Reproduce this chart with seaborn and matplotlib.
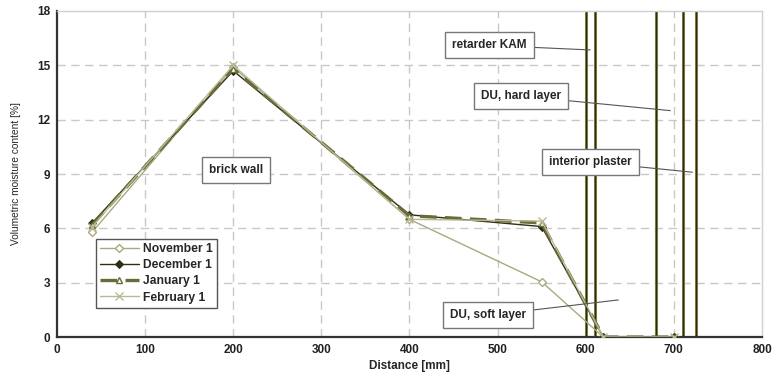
import matplotlib
matplotlib.use("Agg")
import matplotlib.pyplot as plt
import seaborn as sns
import numpy as np

# ---- data ----
distance = [40, 200, 400, 550, 620, 700]
november = [5.8, 14.9, 6.5, 3.05, 0.0, 0.0]
december = [6.3, 14.7, 6.75, 6.1, 0.0, 0.0]
january = [6.2, 14.8, 6.7, 6.3, 0.0, 0.0]
february = [6.1, 15.0, 6.5, 6.4, 0.0, 0.0]
series_names = ["November 1", "December 1", "January 1", "February 1"]
layer_bounds = [600, 610, 680, 710, 725]
x_ticks = [0, 100, 200, 300, 400, 500, 600, 700, 800]
y_ticks = [0, 3, 6, 9, 12, 15, 18]
labels = ["brick wall", "retarder KAM", "DU, hard layer", "interior plaster", "DU, soft layer"]

sns.set_theme(style="white")
plt.rcParams['font.family'] = ['Liberation Sans', 'DejaVu Sans']

fig = plt.figure(figsize=(7.74, 3.87), dpi=100)
ax = fig.add_axes([0.0736, 0.129, 0.9109, 0.8426])

# grid
for xv in x_ticks[1:-1]:
    ax.axvline(xv, color='#c8c8c8', lw=1, ls=(0, (6, 4)), zorder=0)
for yv in y_ticks[1:-1]:
    ax.axhline(yv, color='#c8c8c8', lw=1, ls=(0, (6, 4)), zorder=0)

# layer boundaries
for xb in layer_bounds:
    ax.axvline(xb, color='#8a8a4a', lw=2.2, zorder=1)
    ax.axvline(xb, color='#2b2b10', lw=1.0, zorder=1)

styles = [
    dict(color='#a9a980', lw=1.0, marker='D', ms=4, mfc='white', mec='#a9a980', mew=1.0, ls='-'),
    dict(color='#2e2e12', lw=1.0, marker='D', ms=4.5, mfc='#2e2e12', mec='#2e2e12', ls='-'),
    dict(color='#6a6a3a', lw=2.4, marker='^', ms=5, mfc='white', mec='#6a6a3a', mew=1.0, ls=(0, (5, 2.5))),
    dict(color='#b9b995', lw=1.0, marker='x', ms=6, mec='#b9b995', mew=1.0, ls='-'),
]
for name, vals, st in zip(series_names, [november, december, january, february], styles):
    sns.lineplot(x=distance, y=vals, ax=ax, label=name, zorder=3, **st)

ax.set_xlim(0, 800)
ax.set_ylim(0, 18)
ax.set_xticks(x_ticks)
ax.set_yticks(y_ticks)
ax.tick_params(axis='both', labelsize=8.5, length=3, width=1, direction='out', pad=2, colors='#222222')
for lab in ax.get_xticklabels() + ax.get_yticklabels():
    lab.set_fontweight('bold')
ax.set_xlabel("Distance [mm]", fontsize=8.5, fontweight='bold', labelpad=3)
ax.set_ylabel("Volumetric moisture content [%]", fontsize=7.3, labelpad=11)

for side in ['left', 'bottom']:
    ax.spines[side].set_color('#333333')
    ax.spines[side].set_linewidth(1.6)
for side in ['top', 'right']:
    ax.spines[side].set_color('#d0d0d0')
    ax.spines[side].set_linewidth(1.0)

bbox = dict(boxstyle='square,pad=0.6', fc='white', ec='#777777', lw=1.0)
# annotations: (label, text pos, arrow target)
ann = [
    (labels[0], (203, 9.2), None),
    (labels[1], (491, 16.1), (605, 15.85)),
    (labels[2], (527, 13.3), (696, 12.5)),
    (labels[3], (605, 9.67), (721, 9.1)),
    (labels[4], (489, 1.2), (637, 2.05)),
]
for text, pos, tgt in ann:
    if tgt is None:
        ax.text(pos[0], pos[1], text, ha='center', va='center', fontsize=8.5,
                fontweight='bold', bbox=bbox, zorder=5)
    else:
        ax.annotate(text, xy=tgt, xytext=pos, ha='center', va='center', fontsize=8.5,
                    fontweight='bold', bbox=bbox, zorder=5,
                    arrowprops=dict(arrowstyle='-', color='#555555', lw=0.8, shrinkA=0, shrinkB=0))

leg = ax.legend(loc='lower left', bbox_to_anchor=(0.055, 0.09), fontsize=8.7, frameon=True,
                fancybox=False, edgecolor='#555555', framealpha=1, borderpad=0.35,
                labelspacing=0.35, handlelength=3.2, handletextpad=0.4, borderaxespad=0)
leg.get_frame().set_linewidth(1.0)
for t in leg.get_texts():
    t.set_fontweight('bold')

fig.savefig("out.png", dpi=100)
